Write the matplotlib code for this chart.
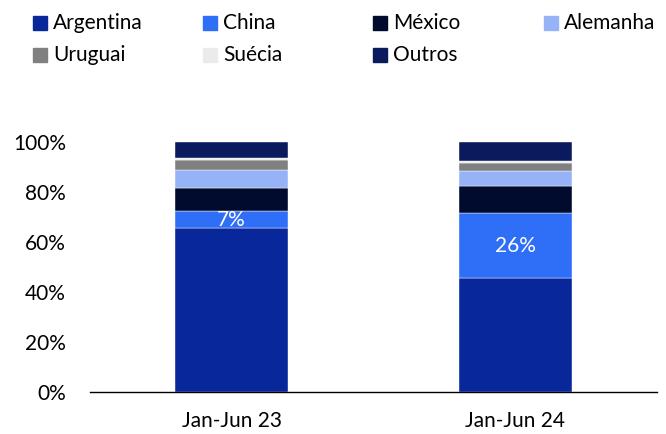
import matplotlib
matplotlib.use("Agg")
import matplotlib.pyplot as plt
from matplotlib.patches import Rectangle

plt.rcParams['font.family'] = ['Lato', 'DejaVu Sans']

categories = ["Jan-Jun 23", "Jan-Jun 24"]
series = ["Argentina", "China", "México", "Alemanha", "Uruguai", "Suécia", "Outros"]
argentina = [65.5, 45.5]
china = [7.0, 26.0]
mexico = [9.2, 10.8]
alemanha = [7.1, 6.3]
uruguai = [4.0, 2.9]
suecia = [0.9, 1.1]
outros = [6.3, 7.4]
values = [argentina, china, mexico, alemanha, uruguai, suecia, outros]
colors = ["#08279A", "#2F6FF7", "#000B2D", "#97B3F8", "#808080", "#EBEBEB", "#0A1A5C"]
china_labels = ["7%", "26%"]

FS = 15
fig = plt.figure(figsize=(6.66, 4.34), dpi=100)
ax = fig.add_axes([90/666, 1-392/434, 567/666, 250/434])

x = list(range(len(categories)))
bottom = [0.0, 0.0]
for name, vals, c in zip(series, values, colors):
    ax.bar(x, vals, width=0.4, bottom=bottom, color=c, edgecolor='white', linewidth=0.3)
    if name == "China":
        for xi, b, v, lab in zip(x, bottom, vals, china_labels):
            ax.text(xi, b + v/2, lab, ha='center', va='center', color='white', fontsize=FS)
    bottom = [b + v for b, v in zip(bottom, vals)]

ax.set_xlim(-0.5, 1.5)
ax.set_ylim(0, 100)
ax.set_yticks([0, 20, 40, 60, 80, 100])
ax.set_yticklabels([f"{t}%" for t in [0, 20, 40, 60, 80, 100]])
ax.set_xticks(x)
ax.set_xticklabels(categories)
for s in ['top', 'right', 'left']:
    ax.spines[s].set_visible(False)
ax.spines['bottom'].set_linewidth(1.0)
ax.tick_params(axis='y', length=0, pad=17.3, labelsize=FS)
ax.tick_params(axis='x', length=0, pad=14, labelsize=FS)

# legend, row-major, fixed column spacing
col_x = [33, 203, 373, 544]
row_y = [23, 55]
for i, (name, c) in enumerate(zip(series, colors)):
    r, cc = divmod(i, 4)
    px, py = col_x[cc], row_y[r]
    fig.add_artist(Rectangle((px/666, 1-(py+7)/434), 14/666, 14/434, color=c, transform=fig.transFigure))
    fig.text((px+20)/666, 1-py/434, name, ha='left', va='center', fontsize=FS)

fig.savefig("out.png", dpi=100)
